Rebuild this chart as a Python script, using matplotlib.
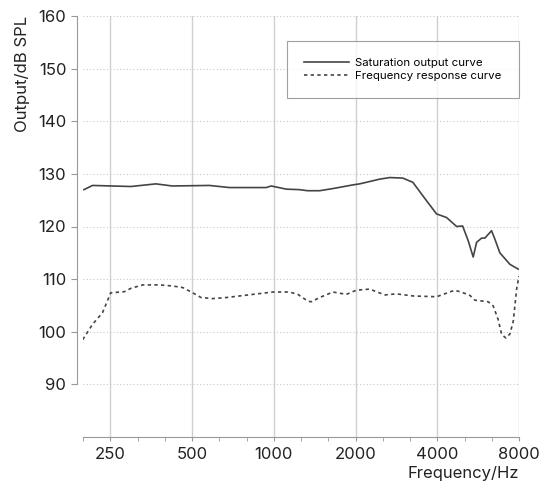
import numpy as np
import matplotlib
matplotlib.use("Agg")
import matplotlib.pyplot as plt
from matplotlib.ticker import FixedLocator, NullFormatter

plt.rcParams['font.family'] = ['Inter', 'DejaVu Sans']

# ---- data ----
sat_freq = [200, 215, 298, 368, 423, 580, 687, 938, 979, 1112, 1245, 1333, 1475,
            1648, 1953, 2072, 2457, 2673, 2986, 3252, 3652, 3975, 4330, 4714,
            4960, 5200, 5425, 5585, 5830, 5990, 6340, 6520, 6800, 7410, 7950]
sat_db = [127.0, 127.8, 127.6, 128.1, 127.7, 127.8, 127.4, 127.4, 127.7, 127.1,
          127.0, 126.8, 126.8, 127.2, 127.9, 128.1, 129.0, 129.3, 129.2, 128.4,
          124.9, 122.4, 121.7, 120.0, 120.1, 117.3, 114.2, 117.0, 117.8, 117.8,
          119.2, 117.6, 115.0, 112.8, 111.9]

fr_freq = [198, 215, 234, 251, 281, 298, 329, 379, 423, 462, 503, 540, 596, 668,
           748, 837, 992, 1143, 1227, 1336, 1375, 1475, 1652, 1851, 2015, 2256,
           2563, 2830, 3260, 3975, 4204, 4645, 4985, 5278, 5505, 6160, 6430,
           6705, 6905, 7160, 7410, 7620, 7840, 8000]
fr_db = [98.5, 101.4, 103.6, 107.4, 107.6, 108.25, 108.9, 108.9, 108.7, 108.4,
         107.4, 106.5, 106.3, 106.5, 106.8, 107.1, 107.55, 107.55, 107.1, 105.8,
         105.7, 106.5, 107.55, 107.1, 107.9, 108.1, 107.0, 107.2, 106.8, 106.65,
         107.1, 107.9, 107.4, 106.9, 106.0, 105.7, 104.9, 102.3, 99.5, 98.8,
         99.6, 102.0, 108.1, 110.6]

x_ticks = [250, 500, 1000, 2000, 4000, 8000]
y_ticks = [90, 100, 110, 120, 130, 140, 150, 160]

# ---- plot ----
fig = plt.figure(figsize=(5.51, 4.87), dpi=100)
ax = fig.add_axes([83 / 551, 1 - 437 / 487, 436 / 551, 421 / 487])

line_col = '#444444'
ax.plot(sat_freq, sat_db, color=line_col, lw=1.2, label='Saturation output curve')
ax.plot(fr_freq, fr_db, color=line_col, lw=1.2, ls=(0, (2, 2)),
        label='Frequency response curve')

ax.set_xscale('log')
ax.set_xlim(250 * 2 ** (-1 / 3), 8000)
ax.set_ylim(80, 160)

ax.xaxis.set_major_locator(FixedLocator(x_ticks))
ax.set_xticklabels([str(v) for v in x_ticks])
minor = [250 * 2 ** (k / 3) for k in range(-1, 16) if k % 3 != 0]
ax.xaxis.set_minor_locator(FixedLocator(minor))
ax.xaxis.set_minor_formatter(NullFormatter())
ax.set_yticks(y_ticks)

# grid: solid vertical, dotted horizontal
for xv in x_ticks:
    ax.axvline(xv, color='#d0d0d0', lw=1.0, zorder=0)
for yv in y_ticks:
    ax.axhline(yv, color='#c8c8c8', lw=0.8, ls=(0, (1, 2)), zorder=0)

for s in ['top', 'right']:
    ax.spines[s].set_visible(False)
ax.spines['left'].set_bounds(90, 160)
ax.spines['left'].set_position(('outward', 4.5))
ax.spines['left'].set_color('#999999')
ax.spines['bottom'].set_color('#999999')

ax.tick_params(axis='both', which='major', labelsize=12, colors='#999999',
               labelcolor='#222222', length=4)
ax.tick_params(axis='x', which='major', length=3, pad=4)
ax.tick_params(axis='x', which='minor', length=3, colors='#999999')

ax.set_xlabel('Frequency/Hz', fontsize=12, color='#222222', loc='right', labelpad=3)
ax.set_ylabel('Output/dB SPL', fontsize=12, color='#222222', loc='top', labelpad=6)

leg = ax.legend(loc='upper right', bbox_to_anchor=(1.0, 0.9406), borderaxespad=0,
                fontsize=8.25, frameon=True, fancybox=False, edgecolor='#888888',
                handlelength=3.9, handletextpad=0.6, borderpad=1.5,
                labelspacing=0.2)
leg.get_frame().set_linewidth(0.8)

fig.savefig('out.png', dpi=100)
